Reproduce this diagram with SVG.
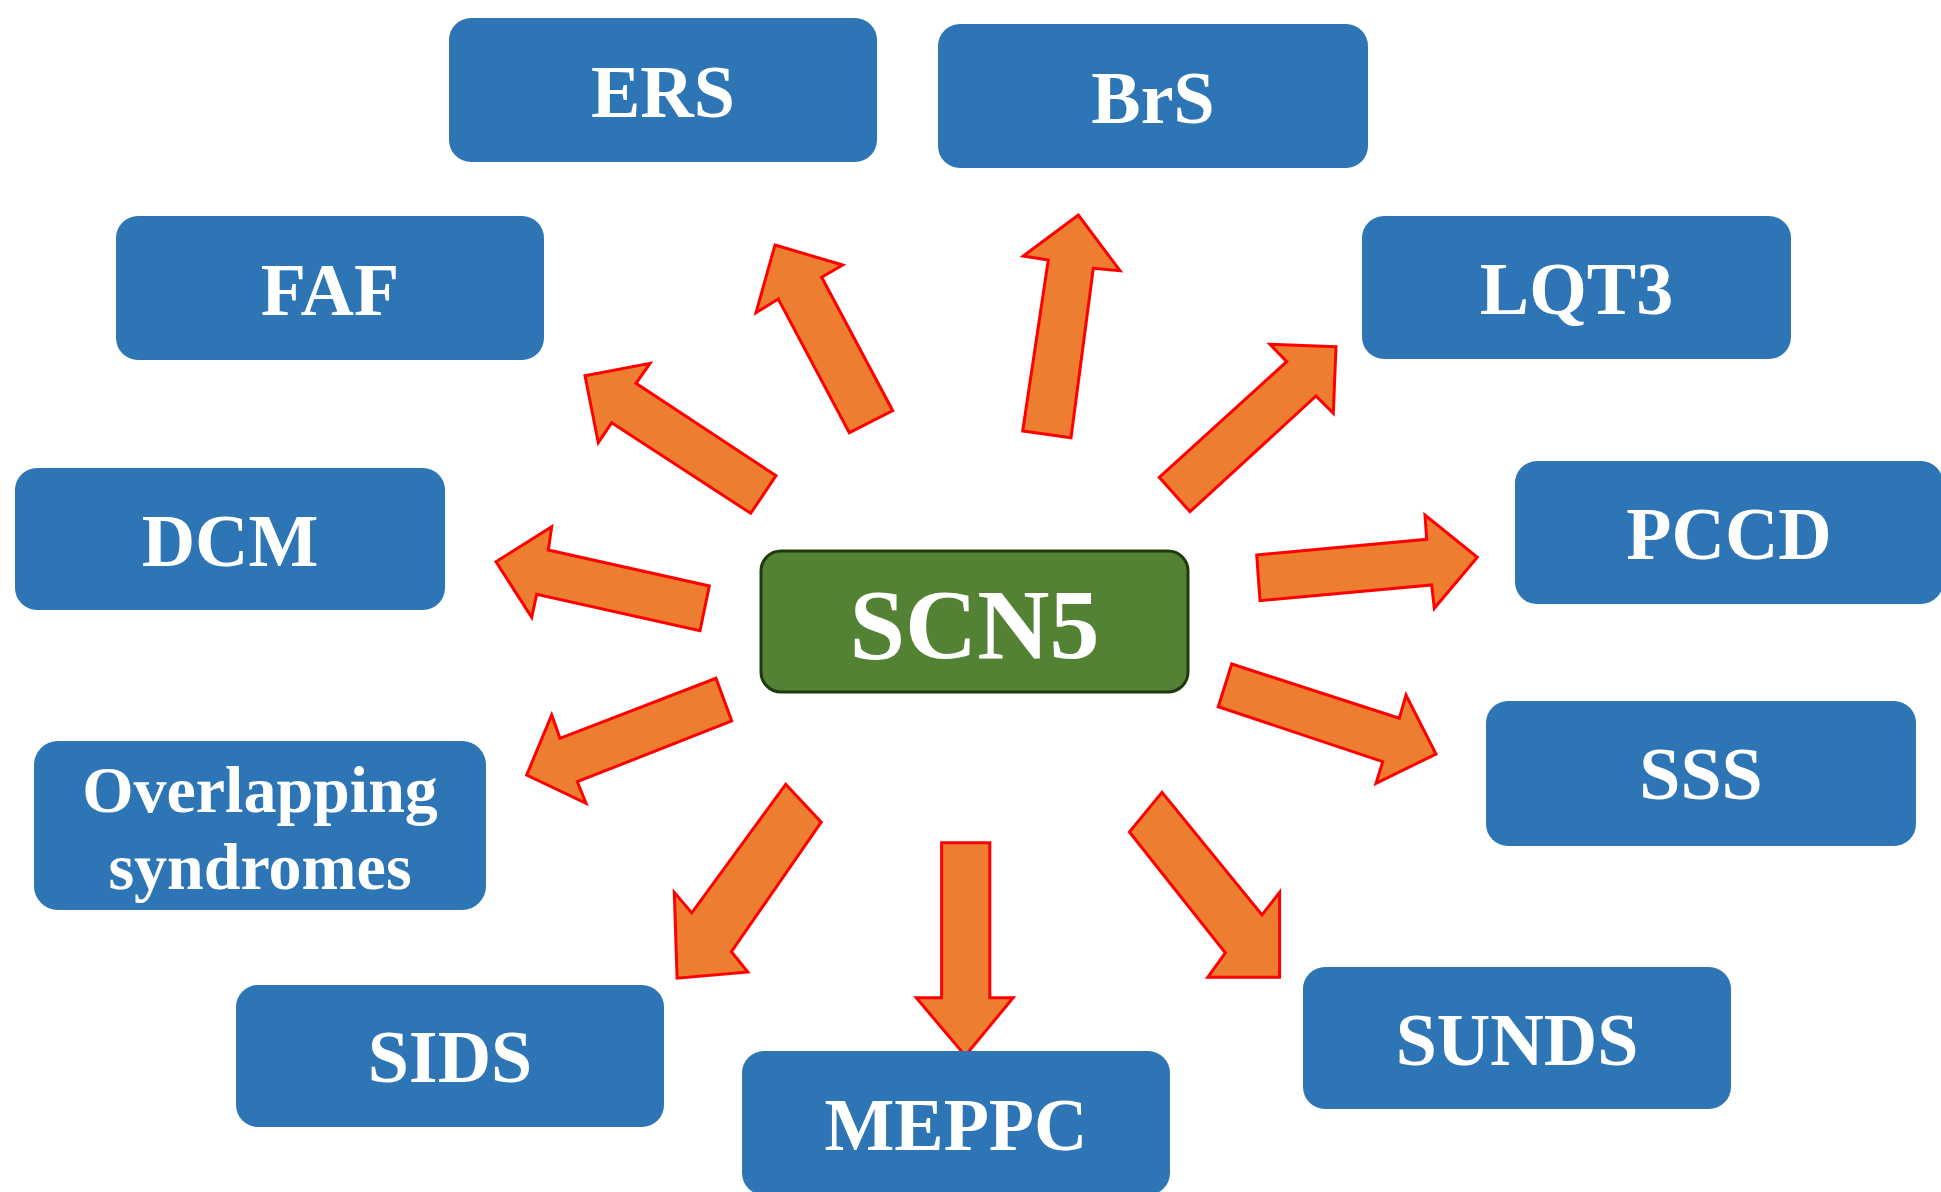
<svg xmlns="http://www.w3.org/2000/svg" width="1941" height="1192" viewBox="0 0 1941 1192">
  <style>
    .box { fill: #2E75B6; }
    .center { fill: #548235; stroke: #1E3A0E; stroke-width: 3; }
    .lbl { fill: #FFFFFF; font-family: "Liberation Serif", "Times New Roman", serif; font-weight: bold; font-size: 74px; text-anchor: middle; }
    .big { font-size: 100px; }
    .small { font-size: 66px; }
    .arrow { fill: #ED7D31; stroke: #FF0000; stroke-width: 3; stroke-linejoin: miter; }
  </style>
  <rect width="1941" height="1192" fill="#FFFFFF"/>

  <g id="connectors">
    <polygon class="arrow" points="775,245 842.7,265 821.7,277.3 892.7,410.7 849.3,432.7 778.3,299 756,312.7"/>
    <polygon class="arrow" points="1078.3,215 1120,270.7 1093.3,268.3 1071,437.7 1022.7,431 1048.3,260 1023.3,256"/>
    <polygon class="arrow" points="1336,346.7 1270,344.3 1286.7,361.7 1159.3,477.3 1190,511.7 1316,396 1333.3,413.3"/>
    <polygon class="arrow" points="585,375.7 650,363.3 636,383.3 776,475.7 750.7,513.3 611.7,422.7 598.3,442.7"/>
    <polygon class="arrow" points="496,561.7 551.7,526.7 548.3,550 709.3,586 700,630.7 536.7,594.3 531.7,617.3"/>
    <polygon class="arrow" points="1256.7,555 1426.7,539.3 1425,515 1477.3,557.3 1434.3,608.3 1431.7,585 1260,600.7"/>
    <polygon class="arrow" points="716,678.3 731.7,721 577.3,781.7 586,803.3 526.7,775 551.7,715 560,738.3"/>
    <polygon class="arrow" points="1231.7,664 1218.3,706.7 1382.7,761.7 1376,783.3 1436,754 1406,695 1399.3,718.3"/>
    <polygon class="arrow" points="785.7,784.3 821.2,822.2 731.4,951.6 747.8,972 677.1,978.2 674.3,892.4 691.8,912.9"/>
    <polygon class="arrow" points="941.6,842.7 989.8,842.7 989.8,997.8 1013.1,997.8 965.3,1055.7 916.3,997.8 941.6,997.8"/>
    <polygon class="arrow" points="1162,792.4 1129.4,832 1225.3,952.9 1207.8,977.3 1279.6,977.3 1279.6,892.4 1262,914.9"/>
  </g>

  <g id="node-scn5">
    <rect class="center" x="761" y="551" width="427" height="141" rx="20"/>
    <text class="lbl big" x="974.5" y="658">SCN5</text>
  </g>
  <g id="node-ers">
    <rect class="box" x="449" y="18" width="428" height="144" rx="22"/>
    <text class="lbl" x="663" y="116.5">ERS</text>
  </g>
  <g id="node-brs">
    <rect class="box" x="938" y="24" width="430" height="144" rx="22"/>
    <text class="lbl" x="1153" y="122.5">BrS</text>
  </g>
  <g id="node-faf">
    <rect class="box" x="116" y="216" width="428" height="144" rx="22"/>
    <text class="lbl" x="330" y="314.5">FAF</text>
  </g>
  <g id="node-lqt3">
    <rect class="box" x="1362" y="216" width="429" height="143" rx="22"/>
    <text class="lbl" x="1576.5" y="314">LQT3</text>
  </g>
  <g id="node-dcm">
    <rect class="box" x="15" y="468" width="430" height="142" rx="22"/>
    <text class="lbl" x="230" y="565.5">DCM</text>
  </g>
  <g id="node-pccd">
    <rect class="box" x="1515" y="461" width="428" height="143" rx="22"/>
    <text class="lbl" x="1729" y="559">PCCD</text>
  </g>
  <g id="node-overlapping">
    <rect class="box" x="34" y="741" width="452" height="169" rx="24"/>
    <text class="lbl small" x="260" y="812">Overlapping</text>
    <text class="lbl small" x="260" y="889">syndromes</text>
  </g>
  <g id="node-sss">
    <rect class="box" x="1486" y="701" width="430" height="145" rx="22"/>
    <text class="lbl" x="1701" y="799">SSS</text>
  </g>
  <g id="node-sids">
    <rect class="box" x="236" y="985" width="428" height="142" rx="22"/>
    <text class="lbl" x="450" y="1081.5">SIDS</text>
  </g>
  <g id="node-meppc">
    <rect class="box" x="742" y="1051" width="428" height="144" rx="22"/>
    <text class="lbl" x="956" y="1150">MEPPC</text>
  </g>
  <g id="node-sunds">
    <rect class="box" x="1303" y="967" width="428" height="142" rx="22"/>
    <text class="lbl" x="1517" y="1065">SUNDS</text>
  </g>
</svg>
